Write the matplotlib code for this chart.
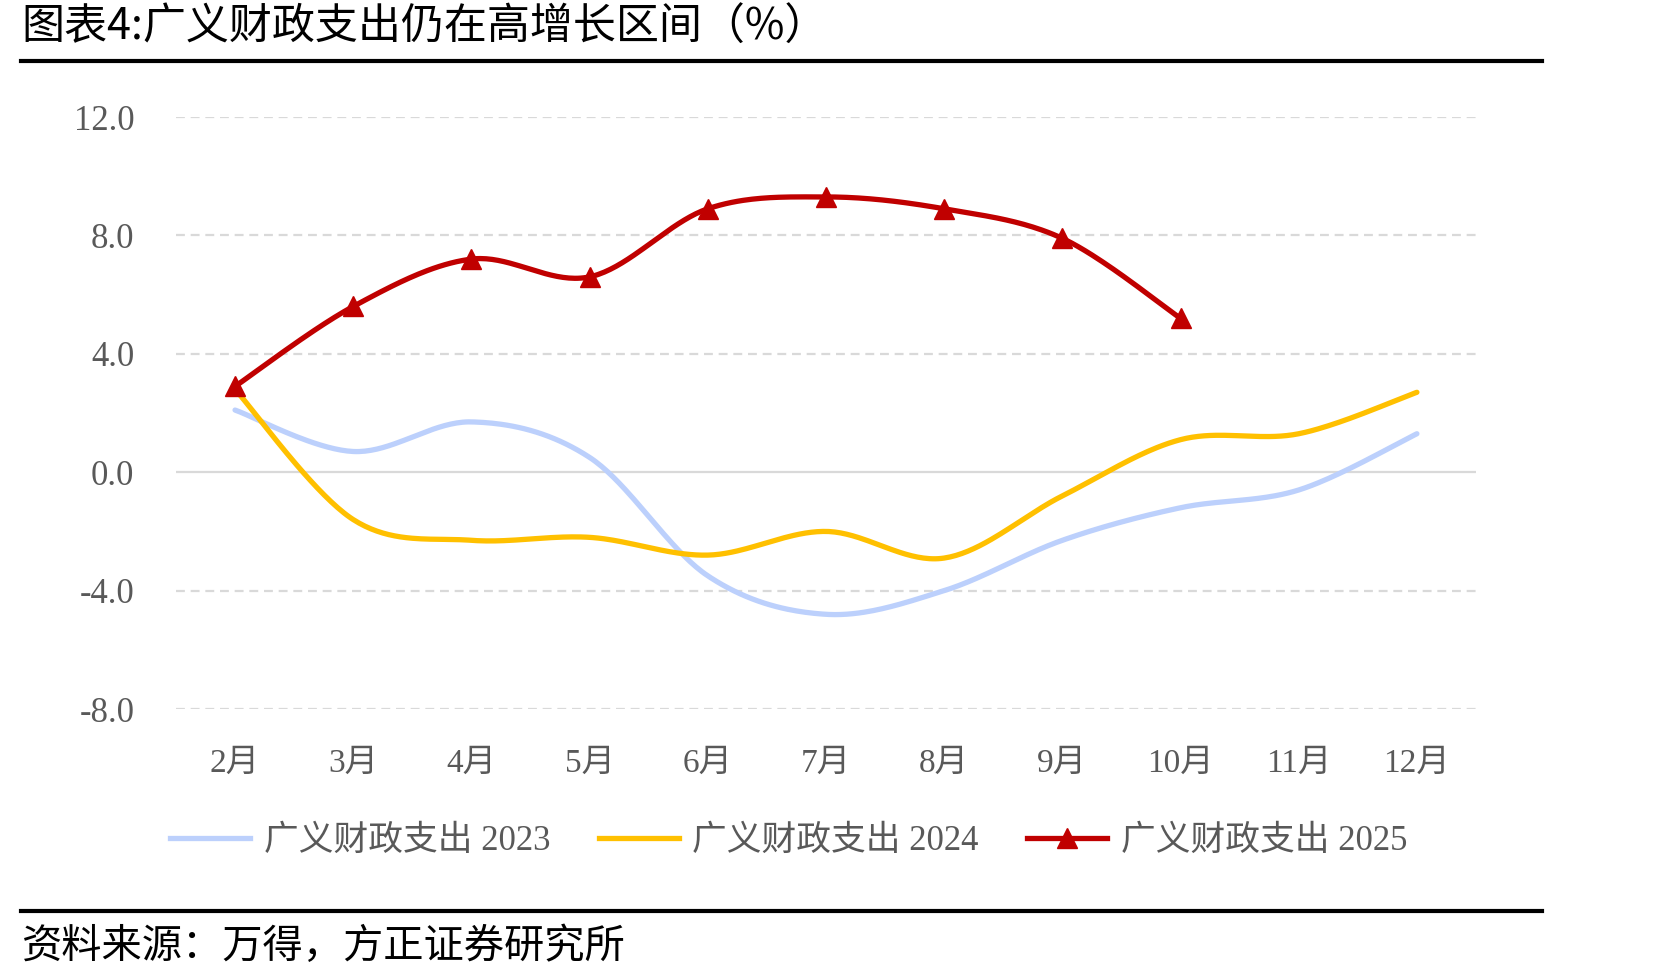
import matplotlib.pyplot as plt
import numpy as np
from matplotlib.lines import Line2D

plt.rcParams['axes.unicode_minus'] = False

months = ["2月", "3月", "4月", "5月", "6月", "7月", "8月", "9月", "10月", "11月", "12月"]
spend_2023 = [2.1, 0.7, 1.7, 0.5, -3.5, -4.8, -4.0, -2.3, -1.2, -0.6, 1.3]
spend_2024 = [2.8, -1.6, -2.3, -2.2, -2.8, -2.0, -2.9, -0.8, 1.1, 1.3, 2.7]
spend_2025 = [2.9, 5.6, 7.2, 6.6, 8.9, 9.3, 8.9, 7.9, 5.2]
yticks = [-8, -4, 0, 4, 8, 12]

c2023 = "#BCD0FC"
c2024 = "#FFC000"
c2025 = "#C00000"

serif_cjk = ['Liberation Serif', 'Noto Sans CJK SC']


def smooth(y, n=40):
    # Excel-like smoothed line (Catmull-Rom style bezier between points)
    x = np.arange(len(y), dtype=float)
    y = np.asarray(y, dtype=float)
    pts = np.column_stack([x, y])
    out = []
    for i in range(len(pts) - 1):
        p0 = pts[max(i - 1, 0)]
        p1 = pts[i]
        p2 = pts[i + 1]
        p3 = pts[min(i + 2, len(pts) - 1)]
        c1 = p1 + (p2 - p0) / 6
        c2 = p2 - (p3 - p1) / 6
        t = np.linspace(0, 1, n, endpoint=(i == len(pts) - 2))[:, None]
        seg = ((1 - t) ** 3) * p1 + 3 * ((1 - t) ** 2) * t * c1 + 3 * (1 - t) * t ** 2 * c2 + t ** 3 * p2
        out.append(seg)
    out = np.vstack(out)
    return out[:, 0], out[:, 1]


fig = plt.figure(figsize=(16.71, 9.8), dpi=100)
ax = fig.add_axes([0.1053, 0.2765, 0.778, 0.6041])

for v in yticks:
    if v == 0:
        ax.axhline(v, color="#D9D9D9", lw=1.6, zorder=1)
    else:
        ax.axhline(v, color="#D9D9D9", lw=1.6, ls=(0, (4, 2.6)), zorder=1)

x, y = smooth(spend_2023)
ax.plot(x, y, color=c2023, lw=3.8, solid_capstyle="round", zorder=2)
x, y = smooth(spend_2024)
ax.plot(x, y, color=c2024, lw=3.8, solid_capstyle="round", zorder=3)
x, y = smooth(spend_2025)
ax.plot(x, y, color=c2025, lw=3.8, solid_capstyle="round", zorder=4)
ax.plot(np.arange(len(spend_2025)), spend_2025, ls="none", marker="^", ms=15,
        color=c2025, zorder=5)

ax.set_xlim(-0.5, len(months) - 0.5)
ax.set_ylim(-8, 12)
ax.set_xticks(np.arange(len(months)))
ax.set_xticklabels(months, family=serif_cjk, fontsize=24, color="#595959")
ax.set_yticks(yticks)
ax.set_yticklabels(["%.1f" % v for v in yticks], family='Liberation Serif', fontsize=25, color="#595959")
ax.tick_params(axis="both", length=0)
ax.tick_params(axis="y", pad=30)
ax.tick_params(axis="x", pad=28)
for s in ax.spines.values():
    s.set_visible(False)

handles = [
    Line2D([], [], color=c2023, lw=3.8),
    Line2D([], [], color=c2024, lw=3.8),
    Line2D([], [], color=c2025, lw=3.8, marker="^", ms=15),
]
labels = ["广义财政支出 2023", "广义财政支出 2024", "广义财政支出 2025"]
leg = fig.legend(handles, labels, loc="center", bbox_to_anchor=(0.472, 0.141), ncol=3,
                 frameon=False, handlelength=2.3, columnspacing=1.4, handletextpad=0.4,
                 prop={"family": serif_cjk, "size": 25})
for t in leg.get_texts():
    t.set_color("#595959")

fig.text(0.013, 0.972, "图表4:广义财政支出仍在高增长区间（%）", family=['Noto Sans CJK SC', 'DejaVu Sans'],
         fontsize=31, va="center", ha="left", color="black")
fig.add_artist(Line2D([0.0126, 0.923], [0.9378, 0.9378], color="black", lw=3))
fig.add_artist(Line2D([0.0126, 0.923], [0.0704, 0.0704], color="black", lw=3))
fig.text(0.013, 0.034, "资料来源：万得，方正证券研究所", family=['Noto Sans CJK SC', 'DejaVu Sans'],
         fontsize=29, va="center", ha="left", color="black")

fig.savefig("out.png", dpi=100)
